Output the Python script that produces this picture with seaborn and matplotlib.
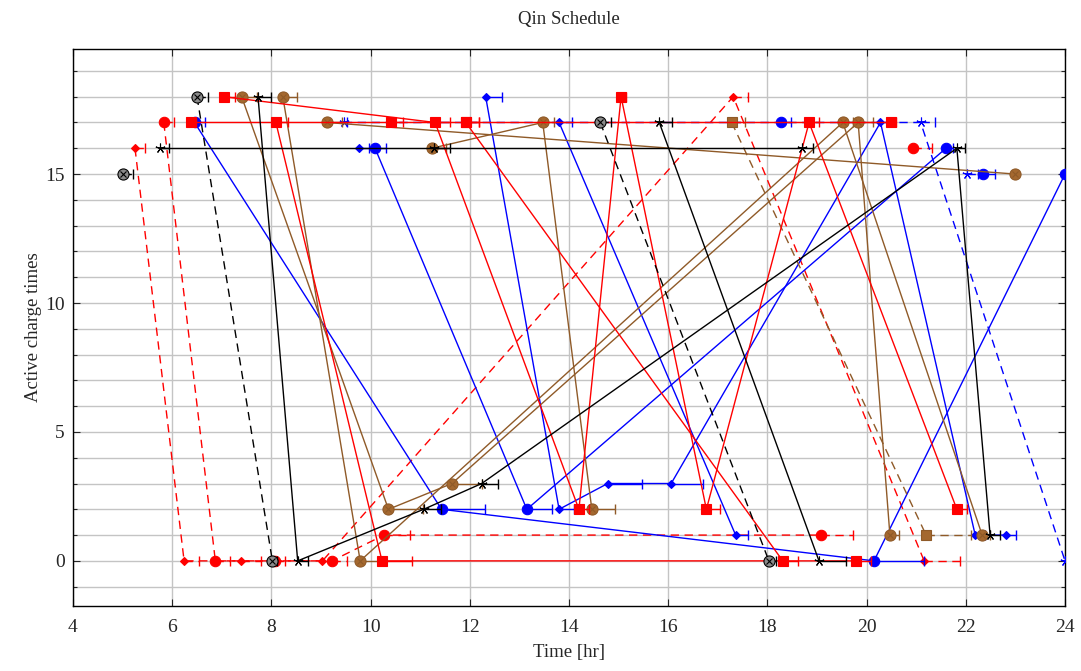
import matplotlib
matplotlib.use("Agg")
import matplotlib.pyplot as plt
import seaborn as sns
import numpy as np
import pandas as pd
from matplotlib.ticker import MultipleLocator

# ---------------- data: (start time [hr], charger index, charge duration [hr]) ----------------
# black solid, star markers
bs1_t = [7.73, 8.53, 11.07, 12.24, 21.82, 22.49]
bs1_c = [18, 0, 2, 3, 16, 1]
bs1_d = [0.27, 0.20, 0.35, 0.33, 0.17, 0.20]
bs2_t = [5.75, 11.28, 18.70]
bs2_c = [16, 16, 16]
bs2_d = [0.19, 0.32, 0.21]
bs3_t = [15.82, 19.04]
bs3_c = [17, 0]
bs3_d = [0.26, 0.54]
# black dashed, otimes markers
bx1_t = [5.00]
bx1_c = [15]
bx1_d = [0.20]
bx2_t = [6.50, 8.02]
bx2_c = [18, 0]
bx2_d = [0.22, 0.10]
bx3_t = [14.63, 18.03]
bx3_c = [17, 0]
bx3_d = [0.22, 0.15]
# red solid, square markers
rs1_t = [7.04, 11.30, 14.20, 15.05, 16.77, 18.84, 21.82]
rs1_c = [18, 17, 2, 18, 2, 17, 2]
rs1_d = [0.22, 0.30, 0.20, 0.10, 0.28, 0.20, 0.20]
rs2_t = [8.09, 10.23, 19.78]
rs2_c = [17, 0, 0]
rs2_d = [0.25, 0.60, 0.30]
rs3_t = [6.37, 10.41, 11.92, 18.31]
rs3_c = [17, 17, 17, 0]
rs3_d = [0.10, 0.25, 0.27, 0.30]
rs4_t = [11.92, 20.50]
rs4_c = [17, 17]
rs4_d = [0.27, 0.10]
# red dashed, diamond markers
rd1_t = [5.25, 6.24, 7.39, 9.03, 17.31, 21.16]
rd1_c = [16, 0, 0, 0, 18, 0]
rd1_d = [0.20, 0.30, 0.40, 0.15, 0.29, 0.72]
# red dashed, circle markers
rc1_t = [5.83, 6.87, 8.07, 9.22, 10.27, 19.08]
rc1_c = [17, 0, 0, 0, 1, 1]
rc1_d = [0.21, 0.30, 0.20, 0.30, 0.53, 0.65]
rc2_t = [20.93]
rc2_c = [16]
rc2_d = [0.38]
# blue solid, circle markers
bc1_t = [6.45, 11.43, 20.15, 24.00]
bc1_c = [17, 2, 0, 15]
bc1_d = [0.21, 0.87, 1.00, 0.00]
bc2_t = [10.09, 13.15, 21.60]
bc2_c = [16, 2, 16]
bc2_d = [0.22, 0.50, 0.15]
bc3_t = [18.27]
bc3_c = [17]
bc3_d = [0.20]
bc4_t = [22.35]
bc4_c = [15]
bc4_d = [0.24]
# blue solid, diamond markers
bd1_t = [12.32, 13.80, 14.78, 16.06, 20.28, 22.19, 22.82]
bd1_c = [18, 2, 3, 3, 17, 1, 1]
bd1_d = [0.33, 0.30, 0.69, 0.64, 0.20, 0.20, 0.20]
bd2_t = [13.80, 17.36]
bd2_c = [17, 1]
bd2_d = [0.26, 0.24]
bd3_t = [9.77]
bd3_c = [16]
bd3_d = [0.20]
# blue dashed, star markers
bst1_t = [9.46, 21.09, 24.00]
bst1_c = [17, 17, 0]
bst1_d = [0.07, 0.28, 0.00]
bst2_t = [22.02]
bst2_c = [15]
bst2_d = [0.22]
# brown solid, otimes markers
br1_t = [8.23, 9.79, 19.52, 22.33]
br1_c = [18, 0, 17, 1]
br1_d = [0.28, 0.44, 0.20, 0.15]
br2_t = [7.40, 10.36, 11.64, 19.83, 20.47]
br2_c = [18, 2, 3, 17, 1]
br2_d = [0.30, 0.70, 0.60, 0.30, 0.18]
br3_t = [11.23, 13.47, 14.46]
br3_c = [16, 17, 2]
br3_d = [0.30, 0.23, 0.47]
br4_t = [9.12, 23.00]
br4_c = [17, 15]
br4_d = [0.30, 0.00]
# brown dashed, square markers
bq1_t = [17.28, 21.20]
bq1_c = [17, 1]
bq1_d = [0.27, 0.90]

title = "Qin Schedule"
xlabel = "Time [hr]"
ylabel = "Active charge times"

# ---------------- styles ----------------
RED, BLUE, BLACK = "#ff0000", "#0000ff", "#000000"
BROWN, BROWN_FILL, GREY = "#8f5a28", "#a4682f", "#8a8a8a"
STAR = (5, 2, 0)
DASH = (0, (6, 4))

styles = {
    "bstar": dict(color=BLACK, ls="-", marker=STAR, ms=7, fc=BLACK, ec=BLACK, otimes=False),
    "botimes": dict(color=BLACK, ls=DASH, marker="o", ms=8, fc=GREY, ec=BLACK, otimes=True),
    "rsq": dict(color=RED, ls="-", marker="s", ms=7.5, fc=RED, ec=RED, otimes=False),
    "rdia": dict(color=RED, ls=DASH, marker="D", ms=4.5, fc=RED, ec=RED, otimes=False),
    "rcirc": dict(color=RED, ls=DASH, marker="o", ms=7.5, fc=RED, ec=RED, otimes=False),
    "bcirc": dict(color=BLUE, ls="-", marker="o", ms=7.5, fc=BLUE, ec=BLUE, otimes=False),
    "bdia": dict(color=BLUE, ls="-", marker="D", ms=4.5, fc=BLUE, ec=BLUE, otimes=False),
    "bst": dict(color=BLUE, ls=DASH, marker=STAR, ms=7, fc=BLUE, ec=BLUE, otimes=False),
    "brot": dict(color=BROWN, ls="-", marker="o", ms=8, fc=BROWN_FILL, ec=BROWN, otimes=True),
    "brsq": dict(color=BROWN, ls=DASH, marker="s", ms=7, fc=BROWN_FILL, ec=BROWN, otimes=False),
}

series = [
    (rc1_t, rc1_c, rc1_d, "rcirc"), (rc2_t, rc2_c, rc2_d, "rcirc"),
    (rd1_t, rd1_c, rd1_d, "rdia"),
    (bst1_t, bst1_c, bst1_d, "bst"), (bst2_t, bst2_c, bst2_d, "bst"),
    (bd1_t, bd1_c, bd1_d, "bdia"), (bd2_t, bd2_c, bd2_d, "bdia"), (bd3_t, bd3_c, bd3_d, "bdia"),
    (bc1_t, bc1_c, bc1_d, "bcirc"), (bc2_t, bc2_c, bc2_d, "bcirc"),
    (bc3_t, bc3_c, bc3_d, "bcirc"), (bc4_t, bc4_c, bc4_d, "bcirc"),
    (bq1_t, bq1_c, bq1_d, "brsq"),
    (br4_t, br4_c, br4_d, "brot"), (br3_t, br3_c, br3_d, "brot"),
    (br1_t, br1_c, br1_d, "brot"), (br2_t, br2_c, br2_d, "brot"),
    (rs4_t, rs4_c, rs4_d, "rsq"), (rs3_t, rs3_c, rs3_d, "rsq"),
    (rs2_t, rs2_c, rs2_d, "rsq"), (rs1_t, rs1_c, rs1_d, "rsq"),
    (bs2_t, bs2_c, bs2_d, "bstar"), (bs3_t, bs3_c, bs3_d, "bstar"), (bs1_t, bs1_c, bs1_d, "bstar"),
    (bx1_t, bx1_c, bx1_d, "botimes"), (bx2_t, bx2_c, bx2_d, "botimes"), (bx3_t, bx3_c, bx3_d, "botimes"),
]

# ---------------- figure ----------------
sns.set_theme(style="ticks")
plt.rcParams["font.family"] = ["Liberation Serif", "DejaVu Serif"]
plt.rcParams["font.size"] = 13

fig = plt.figure(figsize=(10.81, 6.71), dpi=100)
ax = fig.add_axes([73 / 1081, 1 - 606 / 671, (1065 - 73) / 1081, (606 - 49) / 671])

ax.set_xlim(4, 24)
ax.set_ylim(-1.75, 19.85)
ax.xaxis.set_major_locator(MultipleLocator(2))
ax.yaxis.set_major_locator(MultipleLocator(5))
ax.yaxis.set_minor_locator(MultipleLocator(1))
ax.grid(which="major", axis="x", color="#c4c4c4", lw=1.0, zorder=0)
ax.grid(which="both", axis="y", color="#c4c4c4", lw=1.0, zorder=0)
ax.set_axisbelow(True)

z = 2.0
for t, c, d, key in series:
    st = styles[key]
    t = np.asarray(t, float)
    c = np.asarray(c, float)
    d = np.asarray(d, float)
    # charging duration bars
    ax.hlines(c, t, t + d, colors=st["color"], linestyles=st["ls"], lw=1.0, zorder=z)
    m = d > 0
    ax.plot(t[m] + d[m], c[m], ls="none", marker="|", ms=7, mew=1.0,
            color=st["color"], zorder=z)
    df = pd.DataFrame({"t": t, "c": c})
    sns.lineplot(data=df, x="t", y="c", sort=False, estimator=None, ax=ax,
                 color=st["color"], linestyle=st["ls"], lw=1.0,
                 marker=st["marker"], markersize=st["ms"],
                 markerfacecolor=st["fc"], markeredgecolor=st["ec"],
                 markeredgewidth=0.8, zorder=z + 0.5)
    if st["otimes"]:
        ax.plot(t, c, ls="none", marker="x", ms=5, mew=0.8, color=st["ec"], zorder=z + 0.6)
    z += 1

ax.tick_params(which="both", direction="in", top=True, right=True, labelsize=14)
ax.tick_params(axis="x", which="major", pad=9)
ax.tick_params(axis="y", which="major", pad=6)
ax.tick_params(which="major", length=5, width=0.8)
ax.tick_params(which="minor", length=3, width=0.8)
for s in ax.spines.values():
    s.set_color("black")
    s.set_linewidth(1.0)

ax.set_title(title, fontsize=13.5, pad=18)
ax.set_xlabel(xlabel, fontsize=13.5, labelpad=6)
ax.set_ylabel(ylabel, fontsize=13.5, labelpad=2)

fig.savefig("out.png", dpi=100)
